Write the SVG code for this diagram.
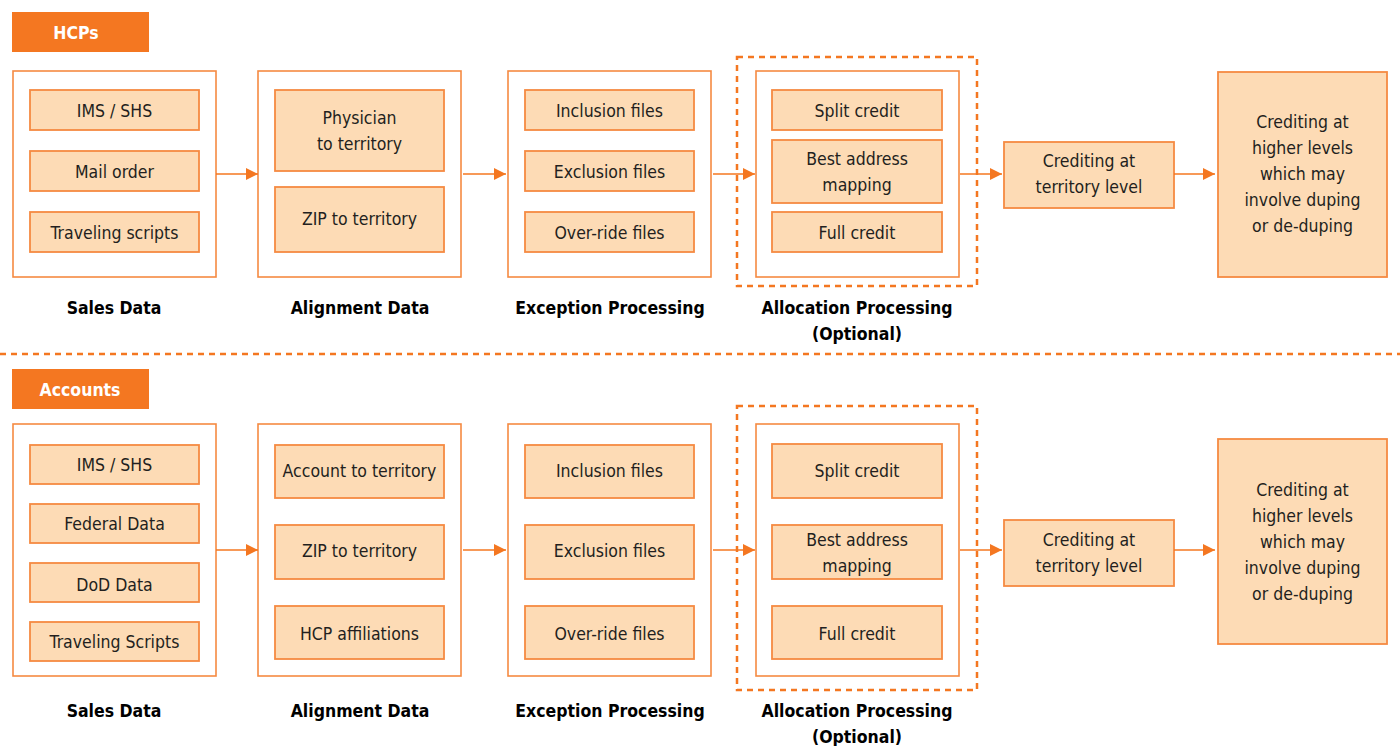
<svg xmlns="http://www.w3.org/2000/svg" width="1400" height="746" viewBox="0 0 1400 746">
<style>
.hdr{fill:#F47721}
.hdrt{fill:#fff;font-family:"DejaVu Sans Condensed","Liberation Sans",sans-serif;font-weight:bold;font-size:17.5px;text-anchor:middle}
.outer{fill:#fff;stroke:#F58A42;stroke-width:1.6}
.inner{fill:#FDDBB5;stroke:#F58A42;stroke-width:1.8}
.dash{fill:none;stroke:#F47721;stroke-width:2.5;stroke-dasharray:6 5}
.t{font-family:"DejaVu Sans Condensed","Liberation Sans",sans-serif;font-size:17.5px;fill:#231F20;text-anchor:middle}
.lb{font-family:"DejaVu Sans Condensed","Liberation Sans",sans-serif;font-size:17.5px;font-weight:bold;fill:#000;text-anchor:middle}
.con{stroke:#F47721;stroke-width:1.6;fill:none}
</style>
<defs>
<marker id="ah" markerWidth="12" markerHeight="12" refX="12" refY="6" orient="auto" markerUnits="userSpaceOnUse">
<path d="M0,0 L12,6 L0,12 Z" fill="#F47721"/>
</marker>
</defs>

<line x1="0" y1="354" x2="1400" y2="354" class="dash"/>

<!-- HCPs row -->
<g id="hcps-header"><rect class="hdr" x="12" y="12" width="137" height="40"/><text class="hdrt" x="76" y="38.5">HCPs</text></g>

<g id="h-sales">
<rect class="outer" x="13" y="71" width="203" height="206"/>
<rect class="inner" x="30" y="90" width="169" height="40"/><text class="t" x="114.5" y="116.5">IMS / SHS</text>
<rect class="inner" x="30" y="151" width="169" height="40"/><text class="t" x="114.5" y="177.5">Mail order</text>
<rect class="inner" x="30" y="212" width="169" height="40"/><text class="t" x="114.5" y="238.5">Traveling scripts</text>
<text class="lb" x="114" y="314">Sales Data</text>
</g>
<g id="h-align">
<rect class="outer" x="258" y="71" width="203" height="206"/>
<rect class="inner" x="275" y="90" width="169" height="81"/><text class="t" x="359.5" y="124">Physician</text><text class="t" x="359.5" y="150">to territory</text>
<rect class="inner" x="275" y="187" width="169" height="65"/><text class="t" x="359.5" y="225">ZIP to territory</text>
<text class="lb" x="360" y="314">Alignment Data</text>
</g>
<g id="h-except">
<rect class="outer" x="508" y="71" width="203" height="206"/>
<rect class="inner" x="525" y="90" width="169" height="40"/><text class="t" x="609.5" y="116.5">Inclusion files</text>
<rect class="inner" x="525" y="151" width="169" height="40"/><text class="t" x="609.5" y="177.5">Exclusion files</text>
<rect class="inner" x="525" y="212" width="169" height="40"/><text class="t" x="609.5" y="238.5">Over-ride files</text>
<text class="lb" x="610" y="314">Exception Processing</text>
</g>
<g id="h-alloc">
<rect class="dash" x="737" y="57" width="240" height="229"/>
<rect class="outer" x="756" y="71" width="203" height="206"/>
<rect class="inner" x="772" y="90" width="170" height="40"/><text class="t" x="857" y="116.5">Split credit</text>
<rect class="inner" x="772" y="140" width="170" height="63"/><text class="t" x="857" y="165">Best address</text><text class="t" x="857" y="191">mapping</text>
<rect class="inner" x="772" y="212" width="170" height="40"/><text class="t" x="857" y="238.5">Full credit</text>
<text class="lb" x="857" y="314">Allocation Processing</text>
<text class="lb" x="857" y="340">(Optional)</text>
</g>
<g id="h-terr">
<rect class="inner" x="1004" y="142" width="170" height="66"/><text class="t" x="1089" y="167">Crediting at</text><text class="t" x="1089" y="193">territory level</text>
</g>
<g id="h-higher">
<rect class="inner" x="1218" y="72" width="169" height="205"/>
<text class="t" x="1302.5" y="128">Crediting at</text>
<text class="t" x="1302.5" y="154">higher levels</text>
<text class="t" x="1302.5" y="180">which may</text>
<text class="t" x="1302.5" y="206">involve duping</text>
<text class="t" x="1302.5" y="232">or de-duping</text>
</g>

<!-- Accounts row -->
<g id="accounts-header"><rect class="hdr" x="12" y="369" width="137" height="40"/><text class="hdrt" x="80" y="395.5">Accounts</text></g>

<g id="a-sales">
<rect class="outer" x="13" y="424" width="203" height="252"/>
<rect class="inner" x="30" y="445" width="169" height="39"/><text class="t" x="114.5" y="470.5">IMS / SHS</text>
<rect class="inner" x="30" y="504" width="169" height="39"/><text class="t" x="114.5" y="529.5">Federal Data</text>
<rect class="inner" x="30" y="563" width="169" height="39"/><text class="t" x="114.5" y="591">DoD Data</text>
<rect class="inner" x="30" y="622" width="169" height="39"/><text class="t" x="114.5" y="647.5">Traveling Scripts</text>
<text class="lb" x="114" y="717">Sales Data</text>
</g>
<g id="a-align">
<rect class="outer" x="258" y="424" width="203" height="252"/>
<rect class="inner" x="275" y="445" width="169" height="53"/><text class="t" x="359.5" y="477">Account to territory</text>
<rect class="inner" x="275" y="525" width="169" height="54"/><text class="t" x="359.5" y="557">ZIP to territory</text>
<rect class="inner" x="275" y="606" width="169" height="53"/><text class="t" x="359.5" y="640">HCP affiliations</text>
<text class="lb" x="360" y="717">Alignment Data</text>
</g>
<g id="a-except">
<rect class="outer" x="508" y="424" width="203" height="252"/>
<rect class="inner" x="525" y="445" width="169" height="53"/><text class="t" x="609.5" y="477">Inclusion files</text>
<rect class="inner" x="525" y="525" width="169" height="54"/><text class="t" x="609.5" y="557">Exclusion files</text>
<rect class="inner" x="525" y="606" width="169" height="53"/><text class="t" x="609.5" y="640">Over-ride files</text>
<text class="lb" x="610" y="717">Exception Processing</text>
</g>
<g id="a-alloc">
<rect class="dash" x="737" y="406" width="240" height="284"/>
<rect class="outer" x="756" y="424" width="203" height="252"/>
<rect class="inner" x="772" y="444" width="170" height="54"/><text class="t" x="857" y="477">Split credit</text>
<rect class="inner" x="772" y="525" width="170" height="54"/><text class="t" x="857" y="546">Best address</text><text class="t" x="857" y="572">mapping</text>
<rect class="inner" x="772" y="606" width="170" height="53"/><text class="t" x="857" y="640">Full credit</text>
<text class="lb" x="857" y="717">Allocation Processing</text>
<text class="lb" x="857" y="743">(Optional)</text>
</g>
<g id="a-terr">
<rect class="inner" x="1004" y="520" width="170" height="66"/><text class="t" x="1089" y="546">Crediting at</text><text class="t" x="1089" y="572">territory level</text>
</g>
<g id="a-higher">
<rect class="inner" x="1218" y="439" width="169" height="205"/>
<text class="t" x="1302.5" y="496">Crediting at</text>
<text class="t" x="1302.5" y="522">higher levels</text>
<text class="t" x="1302.5" y="548">which may</text>
<text class="t" x="1302.5" y="574">involve duping</text>
<text class="t" x="1302.5" y="600">or de-duping</text>
</g>

<g id="connectors">
<line class="con" x1="216" y1="174" x2="258" y2="174" marker-end="url(#ah)"/>
<line class="con" x1="463" y1="174" x2="506" y2="174" marker-end="url(#ah)"/>
<line class="con" x1="713" y1="174" x2="755" y2="174" marker-end="url(#ah)"/>
<line class="con" x1="960" y1="174" x2="1002" y2="174" marker-end="url(#ah)"/>
<line class="con" x1="1174" y1="174" x2="1215" y2="174" marker-end="url(#ah)"/>
<line class="con" x1="216" y1="550" x2="258" y2="550" marker-end="url(#ah)"/>
<line class="con" x1="463" y1="550" x2="506" y2="550" marker-end="url(#ah)"/>
<line class="con" x1="713" y1="550" x2="755" y2="550" marker-end="url(#ah)"/>
<line class="con" x1="960" y1="550" x2="1002" y2="550" marker-end="url(#ah)"/>
<line class="con" x1="1174" y1="550" x2="1215" y2="550" marker-end="url(#ah)"/>
</g>
</svg>
